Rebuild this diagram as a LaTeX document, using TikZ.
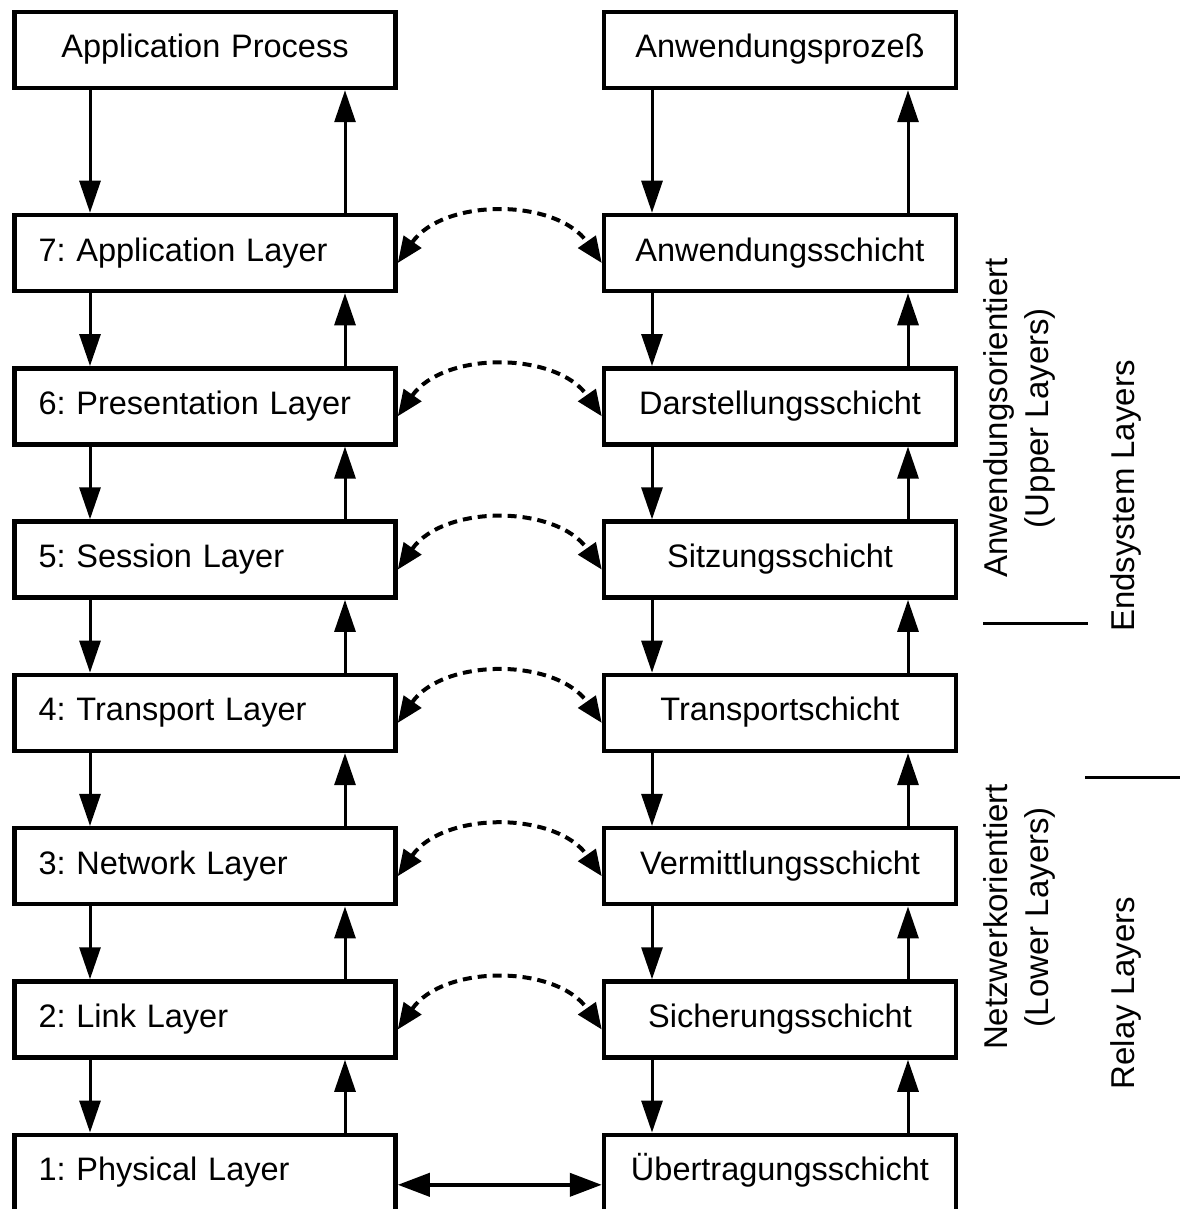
\documentclass[tikz,border=0pt]{standalone}
\usepackage{fontspec}
\setmainfont{Liberation Sans}
\usetikzlibrary{arrows.meta}
\frenchspacing
\begin{document}
\begin{tikzpicture}[x=1pt,y=1pt,
  boxfont/.style={font=\fontsize{32.5}{39}\selectfont},
  sidefont/.style={font=\fontsize{33}{41}\selectfont},
  lbox/.style={draw, line width=4.5pt, boxfont, minimum width=381pt, minimum height=76pt,
    inner xsep=24pt, inner ysep=0pt, text width=333pt, align=left, text height=23pt, text depth=7pt},
  ctrbox/.style={lbox, align=center},
  rbox/.style={draw, line width=4.5pt, boxfont, minimum width=352pt, minimum height=76pt,
    inner xsep=10pt, inner ysep=0pt, text width=332pt, align=center, text height=23pt, text depth=7pt},
  flow/.style={line width=3pt, -{Triangle[length=32pt,width=21pt]}},
  peer/.style={line width=4pt, dash pattern=on 9pt off 6pt,
    {Triangle[length=26pt,width=21pt]}-{Triangle[length=26pt,width=21pt]}},
  wire/.style={line width=4pt,
    {Triangle[length=32pt,width=23pt]}-{Triangle[length=32pt,width=23pt]}},
  sep/.style={line width=3pt},
  side/.style={sidefont, rotate=90, align=center, inner sep=0pt}
]
\useasboundingbox (0,0) rectangle (1180,-1209);
\clip (0,0) rectangle (1180,-1209);

% top row: the two application processes
\node[ctrbox] (L0) at (205,-50) {Application Process};
\node[rbox]   (R0) at (780,-50) {Anwendungsprozeß};

% the seven layers on both sides
\node[lbox] (L7) at (205,-253.0)  {7: Application Layer};
\node[lbox] (L6) at (205,-406.3)  {6: Presentation Layer};
\node[lbox] (L5) at (205,-559.6)  {5: Session Layer};
\node[lbox] (L4) at (205,-712.9)  {4: Transport Layer};
\node[lbox] (L3) at (205,-866.2)  {3: Network Layer};
\node[lbox] (L2) at (205,-1019.5) {2: Link Layer};
\node[lbox] (L1) at (205,-1172.8) {1: Physical Layer};

\node[rbox] (R7) at (780,-253.0)  {Anwendungsschicht};
\node[rbox] (R6) at (780,-406.3)  {Darstellungsschicht};
\node[rbox] (R5) at (780,-559.6)  {Sitzungsschicht};
\node[rbox] (R4) at (780,-712.9)  {Transportschicht};
\node[rbox] (R3) at (780,-866.2)  {Vermittlungsschicht};
\node[rbox] (R2) at (780,-1019.5) {Sicherungsschicht};
\node[rbox] (R1) at (780,-1172.8) {Übertragungsschicht};

% vertical data flow: down on the left, up on the right of each stack
\foreach \a/\b in {L0/L7,L7/L6,L6/L5,L5/L4,L4/L3,L3/L2,L2/L1}{
  \draw[flow] ([xshift=-115pt]\a.south) -- ([xshift=-115pt]\b.north);
  \draw[flow] ([xshift=140pt]\b.north) -- ([xshift=140pt]\a.south);
}
\foreach \a/\b in {R0/R7,R7/R6,R6/R5,R5/R4,R4/R3,R3/R2,R2/R1}{
  \draw[flow] ([xshift=-128pt]\a.south) -- ([xshift=-128pt]\b.north);
  \draw[flow] ([xshift=128pt]\b.north) -- ([xshift=128pt]\a.south);
}

% peer-to-peer protocols between corresponding layers
\foreach \n in {7,6,5,4,3,2}{
  \draw[peer] ([yshift=-10pt]L\n.east) to[out=55,in=125] ([yshift=-10pt]R\n.west);
}

% physical medium
\draw[wire] ([yshift=-12pt]L1.east) -- ([yshift=-12pt]R1.west);

% grouping labels on the right
\node[side] (upper) at (1019,-418) {Anwendungsorientiert\\(Upper Layers)};
\node[side] (lower) at (1019,-917) {Netzwerkorientiert\\(Lower Layers)};
\node[side] (endsys) at (1126,-496) {Endsystem Layers};
\node[side] (relay) at (1126,-993) {Relay Layers};
\draw[sep] (983,-623) -- (1088,-623);
\draw[sep] (1085,-777) -- (1180,-777);
\end{tikzpicture}
\end{document}
